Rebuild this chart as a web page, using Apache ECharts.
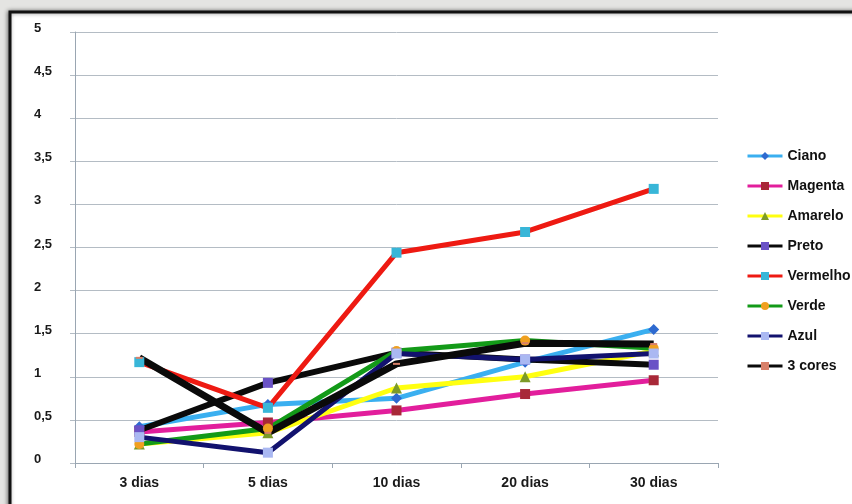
<!DOCTYPE html>
<html>
<head>
<meta charset="utf-8">
<script src="https://cdn.jsdelivr.net/npm/echarts@6/dist/echarts.min.js"></script>
<style>
  html, body { margin: 0; padding: 0; background: #e4e4e2; }
  #chart { width: 852px; height: 504px; }
</style>
</head>
<body>
<div id="chart"></div>
<script>
// Categories (days) and measured values for each colour
var categories = ['3 dias', '5 dias', '10 dias', '20 dias', '30 dias'];
var ciano     = [0.42, 0.68, 0.75, 1.17, 1.55];
var magenta   = [0.36, 0.47, 0.61, 0.80, 0.96];
var amarelo   = [0.22, 0.35, 0.87, 1.00, 1.30];
var preto     = [0.38, 0.93, 1.28, 1.20, 1.14];
var vermelho  = [1.17, 0.64, 2.44, 2.68, 3.18];
var verde     = [0.22, 0.40, 1.30, 1.42, 1.33];
var azul      = [0.30, 0.12, 1.27, 1.20, 1.27];
var tresCores = [1.22, 0.35, 1.15, 1.39, 1.38];

var FONT = "'Liberation Sans', Arial, sans-serif";

function line(name, data, lineColor, symbol, symbolColor, size, width) {
  return {
    name: name,
    type: 'line',
    data: data,
    symbol: symbol,
    symbolSize: size,
    showSymbol: true,
    lineStyle: { color: lineColor, width: width },
    itemStyle: { color: symbolColor, borderWidth: 0 },
    emphasis: { disabled: true },
    animation: false
  };
}

var chart = echarts.init(document.getElementById('chart'), null, { renderer: 'canvas' });
chart.setOption({
  backgroundColor: '#e4e4e2',
  animation: false,
  graphic: [{
    type: 'rect',
    z: -10,
    shape: { x: 10, y: 12, width: 900, height: 520 },
    style: {
      fill: '#ffffff', stroke: '#111111', lineWidth: 3,
      shadowColor: 'rgba(0,0,0,0.45)', shadowBlur: 4, shadowOffsetX: -1
    }
  }],
  grid: { left: 75, right: 134, top: 32, bottom: 41, containLabel: false },
  legend: {
    orient: 'vertical',
    left: 746,
    top: 149,
    padding: 0,
    itemWidth: 35,
    itemHeight: 10,
    itemGap: 16,
    lineStyle: { width: 3 },
    textStyle: { fontFamily: FONT, fontWeight: 'bold', fontSize: 14, color: '#111' },
    data: ['Ciano', 'Magenta', 'Amarelo', 'Preto', 'Vermelho', 'Verde', 'Azul', '3 cores']
  },
  xAxis: {
    type: 'category',
    data: categories,
    boundaryGap: true,
    axisLine: { lineStyle: { color: '#9aa6b2', width: 1 } },
    axisTick: { show: true, length: 5, lineStyle: { color: '#9aa6b2' } },
    axisLabel: { margin: 13, fontFamily: FONT, fontWeight: 'bold', fontSize: 14, color: '#1a1a1a' },
    splitLine: { show: false }
  },
  yAxis: {
    type: 'value',
    min: 0, max: 5, interval: 0.5,
    axisLine: { show: true, lineStyle: { color: '#9aa6b2', width: 1 } },
    axisTick: { show: true, length: 5, lineStyle: { color: '#b4bcc4' } },
    axisLabel: {
      margin: 41, align: 'left', verticalAlign: 'bottom', lineHeight: 7,
      fontFamily: FONT, fontWeight: 'bold', fontSize: 13, color: '#1a1a1a',
      formatter: function (v) { return String(v).replace('.', ','); }
    },
    splitLine: { show: true, lineStyle: { color: '#b4bcc4', width: 1 } }
  },
  series: [
    line('Ciano', ciano, '#3aaff0', 'diamond', '#2e6ad0', 11, 5),
    line('Magenta', magenta, '#e21e9c', 'rect', '#a82838', 10, 5),
    line('Amarelo', amarelo, '#ffff10', 'triangle', '#7c9a28', 11, 5),
    line('Preto', preto, '#0a0a0a', 'rect', '#6a52c6', 10, 6),
    line('Vermelho', vermelho, '#ee1a12', 'rect', '#38b6d8', 10, 5),
    line('Verde', verde, '#139a18', 'circle', '#f0a020', 10, 5),
    line('Azul', azul, '#12126e', 'rect', '#aab8f2', 10, 5),
    line('3 cores', tresCores, '#0a0a0a', 'rect', '#d8806a', [7, 2], 7)
  ]
});
</script>
</body>
</html>
